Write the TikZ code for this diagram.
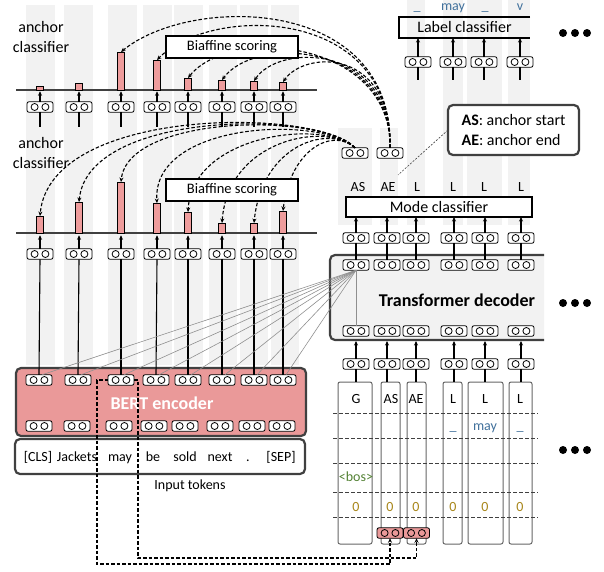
\documentclass[tikz,border=0pt]{standalone}
\usepackage{fontspec}
\setmainfont{Carlito}
\usetikzlibrary{arrows.meta}
\definecolor{salmon}{HTML}{EA9999}
\definecolor{barred}{HTML}{EE9C9C}
\definecolor{bgray}{HTML}{F2F2F2}
\definecolor{dgray}{HTML}{404040}
\definecolor{lgray}{HTML}{8F8F8F}
\definecolor{tblue}{HTML}{41719C}
\definecolor{tgreen}{HTML}{548235}
\definecolor{tgold}{HTML}{A8861A}
\begin{document}
\begin{tikzpicture}[x=1pt,y=1pt,
  every node/.style={inner sep=0pt, outer sep=0pt},
  oo/.style={draw=black, line width=0.8pt, rounded corners=2pt, minimum width=26pt, minimum height=10.5pt, fill=white,
    path picture={\draw[line width=0.8pt] ([xshift=-5.4pt]path picture bounding box.center) circle (3.5pt) ([xshift=5.4pt]path picture bounding box.center) circle (3.5pt);}},
  roo/.style={oo, fill=salmon},
  bar/.style={draw=black, line width=0.7pt, fill=barred, minimum width=6.5pt, anchor=south},
  arr/.style={line width=1.1pt, -{Stealth[length=4.5pt,width=4pt]}},
  ln/.style={line width=1.1pt},
  dsh/.style={line width=1.1pt, dash pattern=on 3.5pt off 2pt, -{Stealth[length=4.5pt,width=4pt]}},
  blk/.style={draw=black, line width=2pt, fill=white},
  gbox/.style={draw=dgray, line width=2.2pt, rounded corners=5pt},
  colbox/.style={draw=dgray!80, line width=1pt, rounded corners=2pt, fill=white},
  hd/.style={dgray, line width=0.9pt, dash pattern=on 3.5pt off 2.5pt},
  f14/.style={font=\fontsize{14}{17}\selectfont},
  f15/.style={font=\fontsize{14.5}{17}\selectfont},
  f16/.style={font=\fontsize{16}{20}\selectfont},
  f18b/.style={font=\fontsize{18}{22}\selectfont\bfseries},
  thin gray/.style={lgray, line width=0.6pt},
]
\useasboundingbox (0,0) rectangle (604,-571);

% background columns
\foreach \a/\b in {26/55,64/93,108/137,143/172,174/203,209/237,240/268,271/299}
  \fill[bgray] (\a,-5) rectangle (\b,-365);
\foreach \a/\b in {338/372,380/398}
  \fill[bgray] (\a,-128) rectangle (\b,-225);
\foreach \a/\b in {407/425,443/463,467/502,508/530}
  \fill[bgray] (\a,0) rectangle (\b,-225);

% labels anchor classifier
\node[f16, align=center] (ac1) at (41,-37) {anchor\\classifier};
\node[f16, align=center] (ac2) at (41,-153) {anchor\\classifier};

% BERT encoder and tokens
\node[gbox, fill=salmon, minimum width=290pt, minimum height=68pt] (BERT) at (161,-402) {};
\node[f18b, text=white] (bertlbl) at (162,-403) {BERT encoder};
\node[gbox, fill=white, minimum width=290pt, minimum height=35pt] (TOK) at (160,-456.5) {};
\foreach \i/\x/\t in {1/38/{[CLS]},2/77/Jackets,3/120/may,4/153/be,5/185/sold,6/220/next,7/248/.,8/281/{[SEP]}}
  \node[f14, anchor=base] (tk\i) at (\x,-461) {\t};
\node[f14] (inptok) at (190,-486) {Input tokens};
\foreach \i/\x/\y in {1/39/39,2/78/77,3/121/119,4/156/154,5/188/185,6/222/220,7/254/252,8/283/282}{
  \node[oo] (bt\i) at (\x,-380) {};
  \node[oo] (bb\i) at (\y,-426) {};
}

% upper anchor classifier
\draw[line width=1.1pt, dgray] (16,-90) -- (317,-90);
\foreach \i/\x/\h in {1/40/4,2/79/7,3/121/38,4/157/30,5/188/12,6/222/10,7/254/9,8/283/8}
  \node[bar, minimum height=\h pt] (ub\i) at (\x,-90) {};
\foreach \i/\x in {1/40,2/79,3/121,4/157,5/188,6/222,7/254,8/283}{
  \node[oo] (uo\i) at (\x,-107) {};
  \draw[arr] (uo\i.north) -- ++(0,10.5);
  \draw[ln] (uo\i.south) -- ++(0,-15);
}

% lower anchor classifier
\draw[line width=1.1pt, dgray] (16,-233) -- (317,-233);
\foreach \i/\x/\h in {1/40/17,2/79/31,3/121/51,4/157/30,5/188/21,6/222/10,7/254/10,8/283/22}
  \node[bar, minimum height=\h pt] (lb\i) at (\x,-233) {};
\foreach \i/\x in {1/40,2/79,3/121,4/157,5/188,6/222,7/254,8/283}{
  \node[oo] (lo\i) at (\x,-254) {};
  \draw[arr] (lo\i.north) -- ++(0,13.5);
  \draw[ln] (lo\i.south) -- (bt\i.north);
}

% decoder
\filldraw[fill=bgray, draw=dgray, line width=2.2pt, rounded corners=5pt] (544,-255) -- (330,-255) -- (330,-340) -- (544,-340);
\coordinate (TDb) at (0,-341);
\node[f18b] (TD) at (457,-300) {Transformer decoder};
\node[blk, minimum width=186pt, minimum height=20pt, f16] (MC) at (439,-207) {Mode classifier};
\foreach \i/\x in {1/356,2/387,3/416,4/454,5/485,6/521}{
  \node[oo] (mo\i) at (\x,-238) {};
  \node[oo] (dt\i) at (\x,-265) {};
  \node[oo] (db\i) at (\x,-331) {};
  \node[oo] (di\i) at (\x,-364) {};
  \draw[arr] (mo\i.north) -- (mo\i.north |- MC.south);
  \draw[ln] (dt\i.north) -- (mo\i.south);
  \draw[arr] (di\i.north) -- (di\i.north |- TDb);
}
\foreach \i/\x/\t in {1/358/AS,2/388/AE,3/417/L,4/453/L,5/484/L,6/521/L}
  \node[f14] (ml\i) at (\x,-187) {\t};

% attention lines
\draw[thin gray] (dt1.south) -- (db1.north);
\foreach \i in {1,...,8}
  \draw[thin gray] (dt1.south) -- (bt\i.60);

% input columns
\foreach \i/\x/\w in {1/355/34,2/390.5/19,3/416.5/19,4/452.5/19,5/485.5/35,6/520.5/23}
  \node[colbox, minimum width=\w pt, minimum height=162pt] (cb\i) at (\x,-463) {};
\foreach \i in {1,...,6}
  \draw[ln] (di\i.south) -- (di\i.south |- cb\i.north);
\foreach \i/\x/\t in {1/356/G,2/391/AS,3/416/AE,4/453/L,5/485/L,6/520/L}
  \node[f14] (cl\i) at (\x,-399) {\t};
\foreach \y in {413,438,463,492,517}
  \draw[hd] (333,-\y) -- (538,-\y);
\node[f14, text=tblue, anchor=base] (r2a) at (453,-430) {\_};
\node[f14, text=tblue, anchor=base] (r2b) at (485,-430) {may};
\node[f14, text=tblue, anchor=base] (r2c) at (520,-430) {\_};
\node[f14, text=tgreen] (bos) at (356,-477) {<bos>};
\foreach \i/\x in {1/356,2/390,3/416,4/453,5/485,6/520}
  \node[f14, text=tgold] (z\i) at (\x,-507) {0};
\node[roo] (rAS) at (390,-533) {};
\node[roo] (rAE) at (416.5,-533) {};

% label classifier
\node[minimum width=131pt, minimum height=21pt, f16] (LC) at (464.5,-27.5) {Label classifier};
\draw[line width=2pt] (LC.north east) -- (LC.north west) -- (LC.south west) -- (LC.south east);
\foreach \i/\x in {1/418,2/453,3/484,4/520}{
  \node[oo] (lc\i) at (\x,-62) {};
  \draw[arr] (lc\i.north) -- (lc\i.north |- LC.south);
  \draw[ln] (lc\i.south) -- ++(0,-13);
}
\node[f14, text=tblue, anchor=base] (t1) at (417,-10.5) {\_};
\node[f14, text=tblue, anchor=base] (t2) at (453,-10.5) {may};
\node[f14, text=tblue, anchor=base] (t3) at (485,-10.5) {\_};
\node[f14, text=tblue, anchor=base] (t4) at (520,-10.5) {v};

% legend
\node[gbox, fill=white, minimum width=131pt, minimum height=50pt, f16, align=left] (LG) at (513.5,-130) {\textbf{AS}: anchor start\\\textbf{AE}: anchor end};
\coordinate (lgend) at (398,-175);
\draw[dgray, line width=0.6pt, dash pattern=on 2pt off 1.5pt] (LG.west) -- (lgend);

% query nodes
\node[oo] (qAS) at (355,-153) {};
\node[oo] (qAE) at (390,-153) {};

% upper curves
\draw[dsh] (qAE.north) .. controls (394,5) and (190,5) .. (ub3.north);
\draw[dsh] (qAE.north) .. controls (393,-5) and (210,-5) .. (ub4.north);
\draw[dsh] (qAE.north) .. controls (392,-40) and (230,-25) .. (ub5.north);
\draw[dsh] (qAE.north) .. controls (392,-42) and (255,-35) .. (ub6.north);
\draw[dsh] (qAE.north) .. controls (392,-45) and (280,-42) .. (ub7.north);
\draw[dsh] (qAE.north) .. controls (392,-48) and (305,-50) .. (ub8.north);
% lower curves
\draw[dsh] (qAS.north) .. controls (320,-108) and (50,-105) .. (lb1.north);
\draw[dsh] (qAS.north) .. controls (320,-110) and (88,-110) .. (lb2.north);
\draw[dsh] (qAS.north) .. controls (320,-112) and (128,-115) .. (lb3.north);
\draw[dsh] (qAS.north) .. controls (320,-115) and (152,-122) .. (lb4.north);
\draw[dsh] (qAS.north) .. controls (322,-118) and (192,-135) .. (lb5.north);
\draw[dsh] (qAS.north) .. controls (325,-121) and (228,-140) .. (lb6.north);
\draw[dsh] (qAS.north) .. controls (328,-124) and (262,-145) .. (lb7.north);
\draw[dsh] (qAS.north) .. controls (332,-127) and (290,-150) .. (lb8.north);

% biaffine boxes
\node[blk, minimum width=132pt, minimum height=22pt, f15] (BF1) at (232,-47) {Biaffine scoring};
\node[blk, minimum width=132pt, minimum height=22pt, f15] (BF2) at (232,-190) {Biaffine scoring};

% copy connectors
\draw[dsh] (bt3.west) -- (97,-380) -- (97,-564) -| (rAS.south);
\draw[dsh] (bt3.east) -- (138,-380) -- (138,-558) -| (rAE.south);

% ellipses
\foreach \y in {33,303,450}
  \foreach \x in {563,575,587}
    \fill (\x,-\y) circle (4pt);
\end{tikzpicture}
\end{document}
